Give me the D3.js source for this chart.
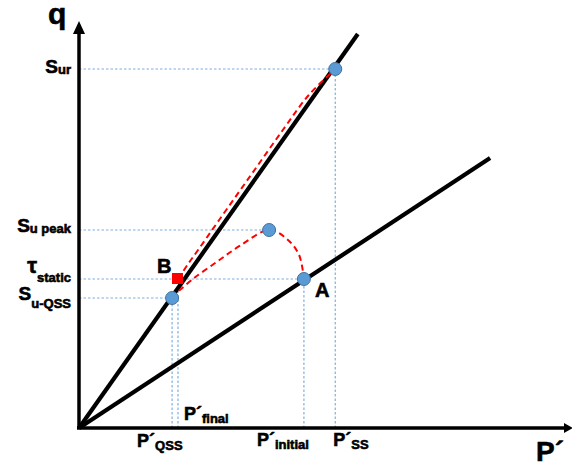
<!DOCTYPE html>
<html><head><meta charset="utf-8">
<script src="https://cdn.jsdelivr.net/npm/d3@7"></script>
<style>
html,body{margin:0;padding:0;background:#fff;}
svg{display:block;}
text{font-family:"Liberation Sans",Arial,sans-serif;font-weight:bold;fill:#000;stroke:#000;stroke-width:0.6;}
</style></head>
<body>
<svg id="c" width="572" height="465"></svg>
<script>
// ---- data (conceptual units, 0..100) ----
const upperLine = [[0,0],[56.9,98.5]];        // steeper line
const lowerLine = [[0,0],[83.9,67.5]];        // flatter line
const pointQSS  = [19.0, 32.5];
const pointB    = [20.2, 37.25];
const pointPeak = [38.8, 49.5];
const pointA    = [45.9, 37.25];
const pointUr   = [52.3, 89.75];
const curveToUr = [[20.2,37.25],[22.4,41.25],[24.3,44.5],[28.6,52.0],[35.1,63.25],[41.6,74.5],[46.9,83.25],[52.1,89.5]];
const curveToA  = [[20.4,34.3],[23.3,37.3],[28.2,41.6],[32.9,45.6],[38.8,49.5],[42.4,47.3],[44.9,43.3],[45.9,37.25]];
const yTickLabels = [
  {v:89.75, main:"S", sub:"ur"},
  {v:49.5,  main:"S", sub:"u peak"},
  {v:37.25, main:"τ", sub:"static"},
  {v:32.5,  main:"S", sub:"u-QSS"}
];
const xTickLabels = [
  {v:19.0, main:"P´", sub:"QSS"},
  {v:20.2, main:"P´", sub:"final"},
  {v:45.9, main:"P´", sub:"initial"},
  {v:52.3, main:"P´", sub:"SS"}
];

const svg = d3.select("#c");
const x = d3.scaleLinear().domain([0,100]).range([79,569]);
const y = d3.scaleLinear().domain([0,100]).range([428,28]);

// guide lines (dotted blue)
const guide = svg.append("g").attr("stroke","#7fb0df").attr("stroke-width",1.2)
  .attr("stroke-dasharray","2.5,2").attr("fill","none");
const hGuides = [[pointUr[1],pointUr[0]],[pointPeak[1],pointPeak[0]],[pointA[1],pointA[0]],[pointQSS[1],pointQSS[0]]];
hGuides.forEach(([yv,xe])=>guide.append("line").attr("x1",x(0)).attr("x2",x(xe)).attr("y1",y(yv)).attr("y2",y(yv)));
const vGuides = [[pointQSS[0],pointQSS[1]],[pointB[0],pointB[1]],[pointA[0],pointA[1]],[pointUr[0],pointUr[1]]];
vGuides.forEach(([xv,ye])=>guide.append("line").attr("x1",x(xv)).attr("x2",x(xv)).attr("y1",y(0)).attr("y2",y(ye)));

// black lines
const line = d3.line().x(d=>x(d[0])).y(d=>y(d[1]));
svg.append("path").attr("d",line(upperLine)).attr("stroke","#000").attr("stroke-width",4.2).attr("fill","none");
svg.append("path").attr("d",line(lowerLine)).attr("stroke","#000").attr("stroke-width",4.2).attr("fill","none");

// axes
svg.append("line").attr("x1",x(0)).attr("y1",y(0)).attr("x2",x(0)).attr("y2",30).attr("stroke","#000").attr("stroke-width",3.5);
svg.append("path").attr("d",`M${x(0)},21 L${x(0)-6},34 L${x(0)+6},34 Z`).attr("fill","#000");
svg.append("line").attr("x1",x(0)-2).attr("y1",y(0)).attr("x2",565).attr("y2",y(0)).attr("stroke","#000").attr("stroke-width",3.5);
svg.append("path").attr("d",`M573,${y(0)} L564,${y(0)-5} L564,${y(0)+5} Z`).attr("fill","#000");

// red dashed paths
const curve = d3.line().x(d=>x(d[0])).y(d=>y(d[1])).curve(d3.curveCatmullRom.alpha(0.5));
[curveToUr, curveToA].forEach(c=>svg.append("path").attr("d",curve(c))
  .attr("stroke","#ff0000").attr("stroke-width",2).attr("stroke-dasharray","6,4").attr("fill","none"));

// red square B
svg.append("rect").attr("x",x(pointB[0])-6).attr("y",y(pointB[1])-6).attr("width",11).attr("height",11).attr("fill","#ff0000");

// blue points
[pointQSS, pointPeak, pointA, pointUr].forEach(p=>svg.append("circle")
  .attr("cx",x(p[0])).attr("cy",y(p[1])).attr("r",6.5)
  .attr("fill","#5b9bd5").attr("stroke","#41719c").attr("stroke-width",1));

// y labels
const yOff = {"ur":[4,1],"u peak":[2,1],"static":[-6,9],"u-QSS":[2,8]};
yTickLabels.forEach(t=>{
  const o = yOff[t.sub];
  const tx = svg.append("text").attr("x",71).attr("y",y(t.v)+o[0]).attr("text-anchor","end");
  tx.append("tspan").attr("font-size", t.main==="τ"?22:19).text(t.main);
  tx.append("tspan").attr("font-size",13).attr("dy",o[1]).text(t.sub);
});

// x labels
const xOff = {"QSS":[-35,447],"final":[6,420],"initial":[-47,446],"SS":[-2,446]};
xTickLabels.forEach(t=>{
  const o = xOff[t.sub];
  const tx = svg.append("text").attr("x",x(t.v)+o[0]).attr("y",o[1]);
  tx.append("tspan").attr("font-size",18).text(t.main);
  tx.append("tspan").attr("font-size",13).attr("dy",3).text(t.sub);
});

// axis titles and point labels
svg.append("text").attr("x",48).attr("y",24).attr("font-size",30).text("q");
svg.append("text").attr("x",536).attr("y",461).attr("font-size",28).text("P´");
svg.append("text").attr("x",x(pointB[0])-21).attr("y",y(pointB[1])-6).attr("font-size",20).text("B");
svg.append("text").attr("x",x(pointA[0])+11).attr("y",y(pointA[1])+18).attr("font-size",20).text("A");
</script>
</body></html>
